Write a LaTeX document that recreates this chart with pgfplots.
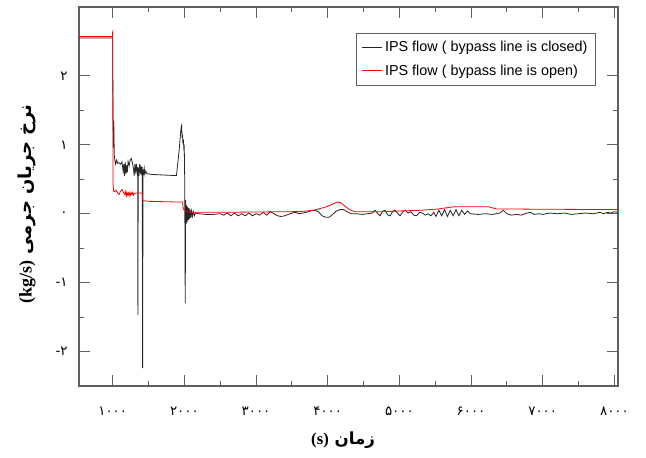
\documentclass[border=0pt]{standalone}
\usepackage{pgfplots}
\pgfplotsset{compat=1.18}
\usepackage{fontspec}
\setmainfont{Liberation Serif}
\newfontfamily\arabicfont[Script=Arabic]{DejaVu Sans}
\newfontfamily\legfont{Liberation Sans}
\TeXXeTstate=1
\definecolor{axgray}{RGB}{95,95,95}

\pgfplotstableread{
x y
500 2.55
1000 2.55
1003 1.74
1008 0.96
1015 1.35
1022 0.85
1030 0.78
1040 0.72
1055 0.78
1070 0.73
1090 0.74
1110 0.72
1130 0.75
1145 0.62
1155 0.72
1165 0.55
1175 0.75
1185 0.58
1195 0.70
1205 0.60
1215 0.76
1230 0.70
1245 0.78
1260 0.80
1275 0.74
1290 0.66
1300 0.55
1310 0.72
1320 0.62
1330 0.72
1340 0.58
1348 0.68
1352 -1.47
1356 0.66
1365 0.55
1375 0.72
1385 0.58
1395 0.70
1405 0.56
1412 0.68
1418 -2.24
1423 0.64
1430 0.56
1440 0.66
1450 0.57
1460 0.62
1480 0.58
1550 0.57
1650 0.565
1750 0.56
1850 0.555
1890 0.555
1910 0.75
1930 0.95
1945 1.15
1955 1.25
1962 1.28
1968 1.10
1974 1.15
1980 1.02
1986 1.08
1992 0.96
1998 1.0
2005 0.5
2012 -1.30
2018 0.2
2025 -0.15
2032 0.12
2040 -0.12
2048 0.10
2056 -0.09
2064 0.08
2072 -0.07
2080 0.06
2090 -0.06
2100 0.04
2112 -0.04
2125 0.03
2140 -0.03
2155 0.01
2200 0.0
2300 -0.01
2400 -0.01
2500 0.0
2550 -0.02
2600 0.01
2650 -0.03
2700 0.01
2750 -0.03
2800 0.0
2850 -0.03
2900 0.01
2950 -0.03
3000 0.0
3050 -0.02
3100 0.02
3150 -0.02
3200 0.03
3250 0.0
3300 -0.03
3350 -0.04
3400 -0.03
3450 -0.01
3500 0.01
3550 0.02
3600 0.0
3650 0.01
3700 0.02
3760 0.04
3820 0.05
3870 0.03
3920 -0.03
3970 -0.05
4020 -0.05
4070 -0.01
4120 0.04
4170 0.06
4220 0.06
4270 0.03
4330 0.0
4400 0.0
4480 -0.01
4560 0.0
4620 0.01
4660 0.05
4700 0.0
4730 -0.03
4770 0.04
4800 0.05
4840 -0.02
4870 -0.03
4910 0.04
4940 0.05
4980 0.0
5010 -0.03
5050 0.03
5080 0.05
5120 0.01
5160 0.03
5200 -0.02
5240 -0.03
5280 0.02
5320 0.01
5360 -0.02
5400 0.0
5440 -0.03
5480 0.02
5510 -0.04
5550 0.05
5590 -0.03
5630 0.06
5670 -0.04
5710 0.05
5750 -0.03
5790 0.06
5830 -0.03
5870 0.05
5910 -0.01
5950 0.04
5990 0.0
6100 -0.01
6200 0.0
6300 -0.01
6400 0.01
6450 0.05
6500 0.0
6560 -0.02
6640 -0.01
6700 -0.02
6780 0.01
6830 0.02
6880 -0.01
6950 0.0
7000 -0.01
7100 0.01
7200 0.0
7300 0.01
7400 -0.01
7500 0.0
7600 0.01
7700 0.0
7800 0.02
7850 0.0
7900 0.02
7950 0.01
8000 0.03
8050 0.02
}\closedtable

\pgfplotstableread{
x y
500 2.57
998 2.57
1000 2.66
1005 0.45
1012 0.33
1030 0.32
1050 0.34
1070 0.30
1090 0.28
1110 0.33
1130 0.35
1150 0.31
1170 0.28
1180 0.32
1190 0.26
1200 0.31
1210 0.27
1220 0.30
1230 0.26
1240 0.31
1250 0.27
1260 0.30
1270 0.28
1280 0.31
1290 0.27
1300 0.29
1320 0.30
1340 0.30
1380 0.30
1410 0.30
1420 0.19
1500 0.18
1700 0.175
1900 0.17
1975 0.17
1985 0.07
2000 0.05
2030 0.04
2060 0.02
2500 0.02
3000 0.025
3500 0.03
3650 0.035
3800 0.05
3950 0.09
4050 0.13
4130 0.17
4180 0.16
4230 0.12
4300 0.06
4380 0.03
4500 0.03
4800 0.03
5000 0.04
5300 0.05
5550 0.07
5750 0.10
6250 0.10
6350 0.07
7000 0.065
8050 0.06
}\opentable

\begin{document}
\begin{tikzpicture}
\path[use as bounding box] (-59.25pt,-53.25pt) rectangle (425.25pt,289.5pt);
\begin{axis}[
  scale only axis,
  width=404.25pt, height=284.25pt,
  xmin=530, xmax=8050,
  ymin=-2.5, ymax=3,
  axis line style={axgray, line width=0.9pt},
  every tick/.style={axgray, line width=0.7pt},
  major tick length=8pt,
  minor tick length=4pt,
  xtick={1000,2000,3000,4000,5000,6000,7000,8000},
  xticklabels={۱۰۰۰,۲۰۰۰,۳۰۰۰,۴۰۰۰,۵۰۰۰,۶۰۰۰,۷۰۰۰,۸۰۰۰},
  ytick={-2,-1,0,1,2},
  yticklabels={\hbox{-}\hbox{۲},\hbox{-}\hbox{۱},۰,۱,۲},
  minor x tick num=1,
  minor y tick num=1,
  ticklabel style={font=\arabicfont\fontsize{10}{11}\selectfont},
  xticklabel style={yshift=-12pt},
  yticklabel style={xshift=-5pt},
  xlabel={\arabicfont\bfseries\fontsize{12.5}{14}\selectfont\beginR زمان \beginL{\rmfamily\bfseries(s)}\endL\endR},
  ylabel={\arabicfont\bfseries\fontsize{13.5}{15}\selectfont\beginR نرخ جریان جرمی \beginL{\rmfamily\bfseries(kg/s)}\endL\endR},
  xlabel style={at={(axis description cs:0.49,-0.1425)}, anchor=center},
  ylabel style={at={(axis description cs:-0.0965,0.48)}, anchor=center, rotate=0},
  legend style={at={(axis description cs:0.959,0.931)}, anchor=north east,
    font=\legfont\fontsize{10.8}{12}\selectfont, draw=axgray, line width=0.6pt,
    row sep=4pt, inner xsep=4pt, inner ysep=4pt},
  legend cell align=left,
  legend image code/.code={\draw[#1, line width=0.6pt] (0pt,0pt) -- (15pt,0pt);},
]
\addplot[black!85, line width=0.6pt] table[x=x,y=y] {\closedtable};
\addlegendentry{IPS flow ( bypass line is closed)}
\addplot[red, line width=0.6pt] table[x=x,y=y] {\opentable};
\addlegendentry{IPS flow ( bypass line is open)}
\end{axis}
\end{tikzpicture}
\end{document}
